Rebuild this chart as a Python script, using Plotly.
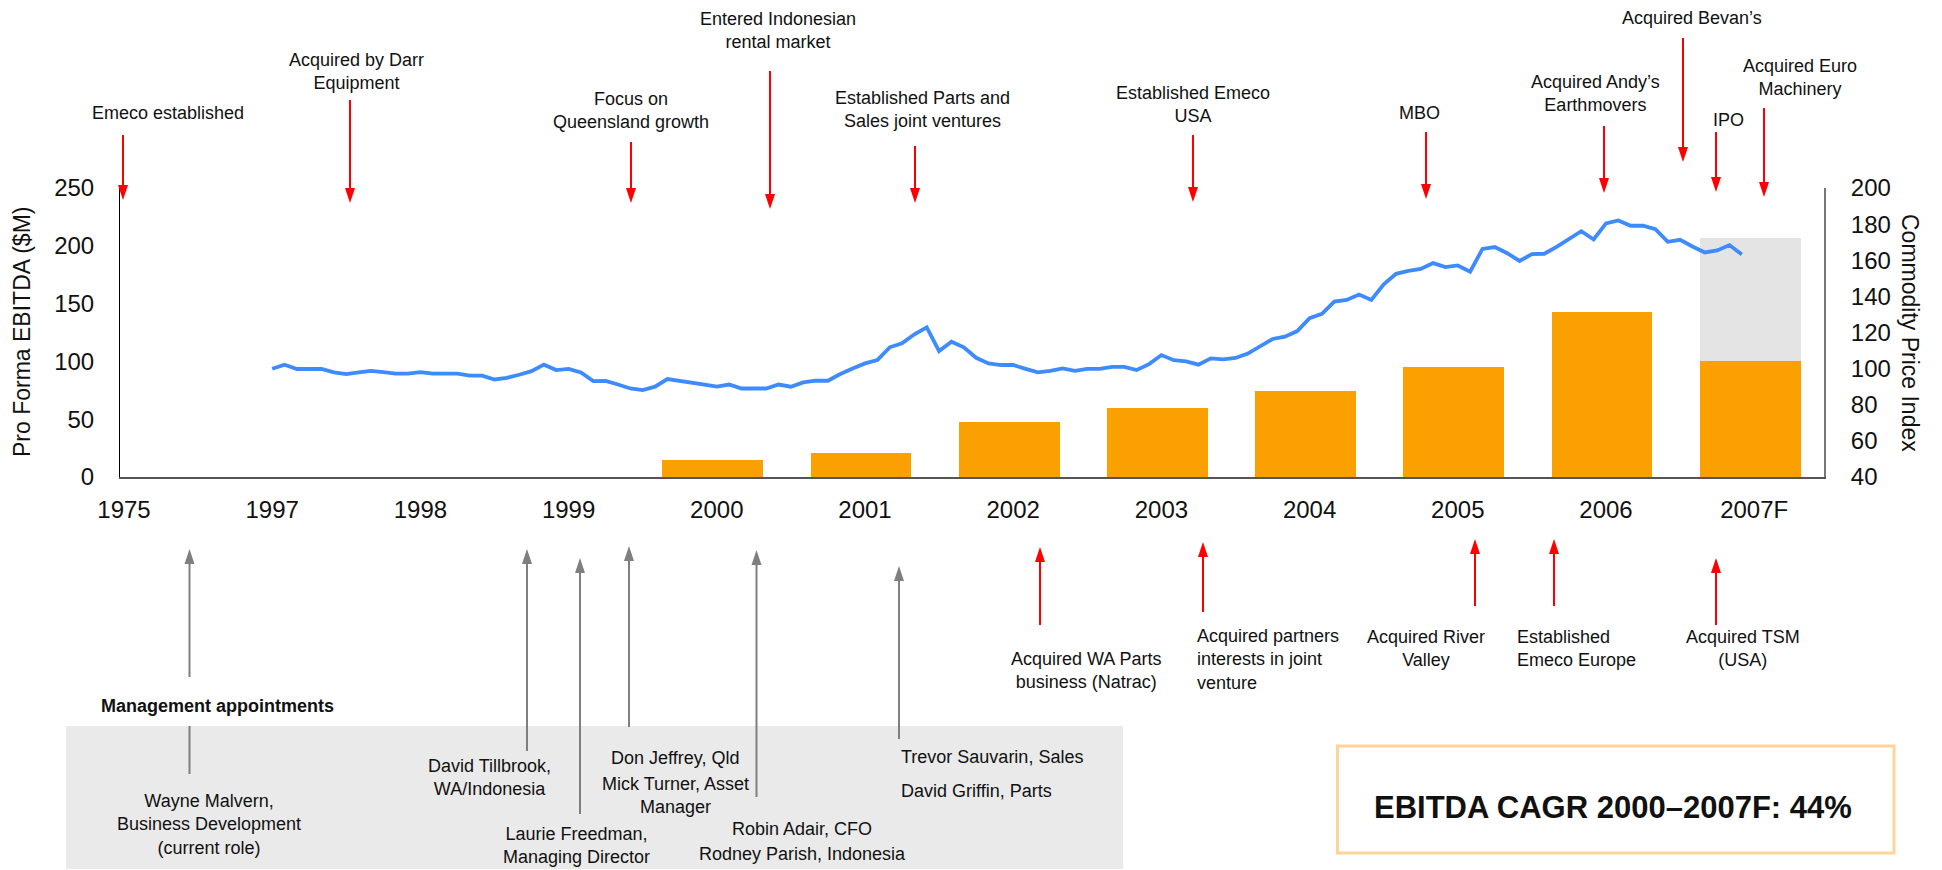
import numpy as np
import plotly.graph_objects as go

# ---------------- data ----------------
categories = ["1975", "1997", "1998", "1999", "2000", "2001", "2002",
              "2003", "2004", "2005", "2006", "2007F"]
bar_years = ["2000", "2001", "2002", "2003", "2004", "2005", "2006", "2007F"]
ebitda = [15, 21, 48, 60, 74, 95, 143, 100]
forecast_years = ["2007F"]
forecast_extra = [107]

price_start_year = 1997
price_index = [
    99.9, 102.2, 99.8, 99.8, 99.8, 97.9, 97.0, 97.9, 98.8, 98.1, 97.2, 97.2,
    98.1, 97.2, 97.2, 97.2, 96.1, 96.1, 94.0, 94.9, 96.6, 98.6, 102.2, 99.2,
    99.9, 97.9, 93.1, 93.2, 91.2, 89.0, 88.1, 90.0, 94.2, 93.3, 92.0, 91.1,
    90.0, 91.2, 89.0, 89.0, 89.0, 91.2, 90.0, 92.4, 93.3, 93.3, 97.0, 100.1,
    102.9, 104.7, 111.8, 114.0, 119.0, 122.9, 109.7, 114.9, 111.8, 106.0, 102.9, 102.0,
    102.0, 99.9, 97.9, 98.8, 100.1, 98.8, 99.9, 99.9, 101.0, 101.0, 99.2, 102.5,
    107.5, 104.7, 104.0, 102.2, 105.7, 105.1, 105.9, 108.3, 112.1, 116.4, 117.7, 120.8,
    127.9, 130.3, 137.1, 138.0, 141.0, 138.0, 146.7, 152.5, 154.1, 155.2, 158.4, 156.2,
    157.1, 153.7, 166.3, 167.3, 163.9, 159.6, 163.4, 163.6, 167.4, 171.5, 176.1, 171.5,
    180.4, 182.0, 179.1, 179.1, 177.2, 170.2, 171.3, 167.6, 164.3, 165.4, 168.4, 163.2,
]
price_dates = price_start_year + np.arange(len(price_index)) / 12.0

y_ticks_left = [0, 50, 100, 150, 200, 250]
y_ticks_right = [40, 60, 80, 100, 120, 140, 160, 180, 200]

top_events = [
    ("Emeco established", 168, 113, 123, 135, 200),
    ("Acquired by Darr<br>Equipment", 356, 71.5, 350, 100, 203),
    ("Focus on<br>Queensland growth", 631, 111, 631, 142, 203),
    ("Entered Indonesian<br>rental market", 778, 30, 770, 71, 209),
    ("Established Parts and<br>Sales joint ventures", 922, 109, 915, 146, 203),
    ("Established Emeco<br>USA", 1193, 104.5, 1193, 135, 202),
    ("MBO", 1419, 113, 1426, 132, 199),
    ("Acquired Andy\u2019s<br>Earthmovers", 1595, 93, 1604, 126, 193),
    ("Acquired Bevan\u2019s", 1692, 18, 1683, 38, 162),
    ("IPO", 1728, 120, 1716, 132, 192),
    ("Acquired Euro<br>Machinery", 1800, 77, 1764, 108, 197),
]
bottom_events = [
    ("Acquired WA Parts<br>business (Natrac)", 1086, 670, "center", 1040, 625, 547),
    ("Acquired partners<br>interests in joint<br>venture", 1195, 659, "left", 1203, 612, 542),
    ("Acquired River<br>Valley", 1426, 648, "center", 1475, 606, 539),
    ("Established<br>Emeco Europe", 1515, 648, "left", 1554, 606, 539),
    ("Acquired TSM<br>(USA)", 1743, 648, "center", 1716, 625, 558),
]
mgmt_arrows = [(189.5, 677, 549), (527, 751, 549), (580, 814, 558),
               (629, 727, 546), (756.5, 797, 550), (899, 739, 566)]
mgmt_texts = [
    ("Wayne Malvern,<br>Business Development<br>(current role)", 209, 825, "center"),
    ("David Tillbrook,<br>WA/Indonesia", 489, 777, "center"),
    ("Laurie Freedman,<br>Managing Director", 576, 845, "center"),
    ("Don Jeffrey, Qld", 675, 758, "center"),
    ("Mick Turner, Asset<br>Manager", 675, 795, "center"),
    ("Robin Adair, CFO", 802, 829, "center"),
    ("Rodney Parish, Indonesia", 802, 854, "center"),
    ("Trevor Sauvarin, Sales", 899, 757, "left"),
    ("David Griffin, Parts", 899, 791, "left"),
]

# ---------------- geometry ----------------
W_FIG, H_FIG = 1942, 870
L, R, T, B = 120, 1824, 188, 477
PW, PH = R - L, B - T
FONT = "Liberation Sans, Arial, sans-serif"
TXT = "#111111"
RED = "#ff0000"
GREY_ARROW = "#7f7f7f"


def px(x):
    return (x - L) / PW


def py(y):
    return (B - y) / PH


shapes = []
annotations = []


def add_arrow(x, y_tail, y_tip, color, head=True, width=2):
    d = 1 if y_tip > y_tail else -1
    hl, hw = 15, 5
    y_base = y_tip - d * hl if head else y_tip
    shapes.append(dict(type="line", xref="paper", yref="paper",
                       x0=px(x), x1=px(x), y0=py(y_tail), y1=py(y_base),
                       line=dict(color=color, width=width)))
    if head:
        path = "M {:.5f},{:.5f} L {:.5f},{:.5f} L {:.5f},{:.5f} Z".format(
            px(x - hw), py(y_base), px(x + hw), py(y_base), px(x), py(y_tip))
        shapes.append(dict(type="path", xref="paper", yref="paper", path=path,
                           fillcolor=color, line=dict(width=0)))


def add_text(s, x, y, anchor="center", size=18, bold=False, angle=0):
    annotations.append(dict(
        text=("<b>%s</b>" % s) if bold else s,
        xref="paper", yref="paper", x=px(x), y=py(y),
        xanchor=anchor, yanchor="middle", align=anchor if anchor != "center" else "center",
        showarrow=False, textangle=angle,
        font=dict(family=FONT, size=size, color=TXT)))


# background boxes
shapes.append(dict(type="rect", xref="paper", yref="paper", layer="below",
                   x0=px(66), x1=px(1123), y0=py(726), y1=py(869),
                   fillcolor="#eaeaea", line=dict(width=0)))
shapes.append(dict(type="rect", xref="paper", yref="paper",
                   x0=px(1337.5), x1=px(1894), y0=py(746), y1=py(853),
                   fillcolor="white", line=dict(color="#fdd49c", width=3)))

for s, tx, ty, ax, y0, y1 in top_events:
    add_text(s, tx, ty)
    add_arrow(ax, y0, y1, RED)
for s, tx, ty, anc, ax, y0, y1 in bottom_events:
    add_text(s, tx, ty, anchor=anc)
    add_arrow(ax, y0, y1, RED)
for ax, y0, y1 in mgmt_arrows:
    add_arrow(ax, y0, y1, GREY_ARROW)
add_arrow(189.5, 774, 726, GREY_ARROW, head=False)
for s, tx, ty, anc in mgmt_texts:
    add_text(s, tx, ty, anchor=anc)
add_text("Management appointments", 99, 706, anchor="left", bold=True)
add_text("EBITDA CAGR 2000\u20132007F: 44%", 1613, 807, size=31, bold=True)
add_text("Pro Forma EBITDA ($M)", 22, 332, size=23, angle=-90)
add_text("Commodity Price Index", 1910, 333, size=23, angle=90)

# ---------------- figure ----------------
fig = go.Figure()
bar_w = 0.68
bar_shift = -0.027
fig.add_trace(go.Bar(x=bar_years, y=ebitda, marker=dict(color="#faa000", line=dict(width=0)),
                     width=bar_w, offset=-bar_w / 2 + bar_shift, showlegend=False))
fig.add_trace(go.Bar(x=forecast_years, y=forecast_extra, marker=dict(color="#e4e4e4", line=dict(width=0)),
                     width=bar_w, offset=-bar_w / 2 + bar_shift, showlegend=False))
fig.add_trace(go.Scatter(x=price_dates, y=price_index, mode="lines",
                         line=dict(color="#3d8bff", width=3.8),
                         xaxis="x2", yaxis="y2", showlegend=False))

x_lo = -0.027
x_hi = x_lo + PW / 148.2
fig.update_layout(
    width=W_FIG, height=H_FIG,
    margin=dict(l=L, r=W_FIG - R, t=T, b=H_FIG - B, pad=0),
    paper_bgcolor="white", plot_bgcolor="white",
    barmode="stack", bargap=0,
    showlegend=False,
    font=dict(family=FONT, color=TXT),
    xaxis=dict(type="category", categoryorder="array", categoryarray=categories,
               tickvals=categories, ticktext=categories,
               range=[x_lo, x_hi], showgrid=False, zeroline=False,
               showline=True, linecolor="#555555", linewidth=1.5,
               ticks="", ticklabelstandoff=10,
               tickfont=dict(family=FONT, size=24, color=TXT), fixedrange=True),
    xaxis2=dict(overlaying="x", range=[x_lo + price_start_year - 1, x_hi + price_start_year - 1],
                visible=False, anchor="y2"),
    yaxis=dict(range=[0, 250], tickvals=y_ticks_left, showgrid=False, zeroline=False,
               showline=True, linecolor="#000000", linewidth=1,
               ticks="", ticklabelstandoff=20,
               tickfont=dict(family=FONT, size=24, color=TXT)),
    yaxis2=dict(range=[40, 200], tickvals=y_ticks_right, overlaying="y", side="right",
                anchor="x", showgrid=False, zeroline=False,
                showline=True, linecolor="#777777", linewidth=2,
                ticks="", ticklabelstandoff=20,
                tickfont=dict(family=FONT, size=24, color=TXT)),
    shapes=shapes,
    annotations=annotations,
)

fig.write_html("out.html",
               config={"displayModeBar": False},
               post_script="document.body.style.margin='0px';document.body.style.overflow='hidden';")
